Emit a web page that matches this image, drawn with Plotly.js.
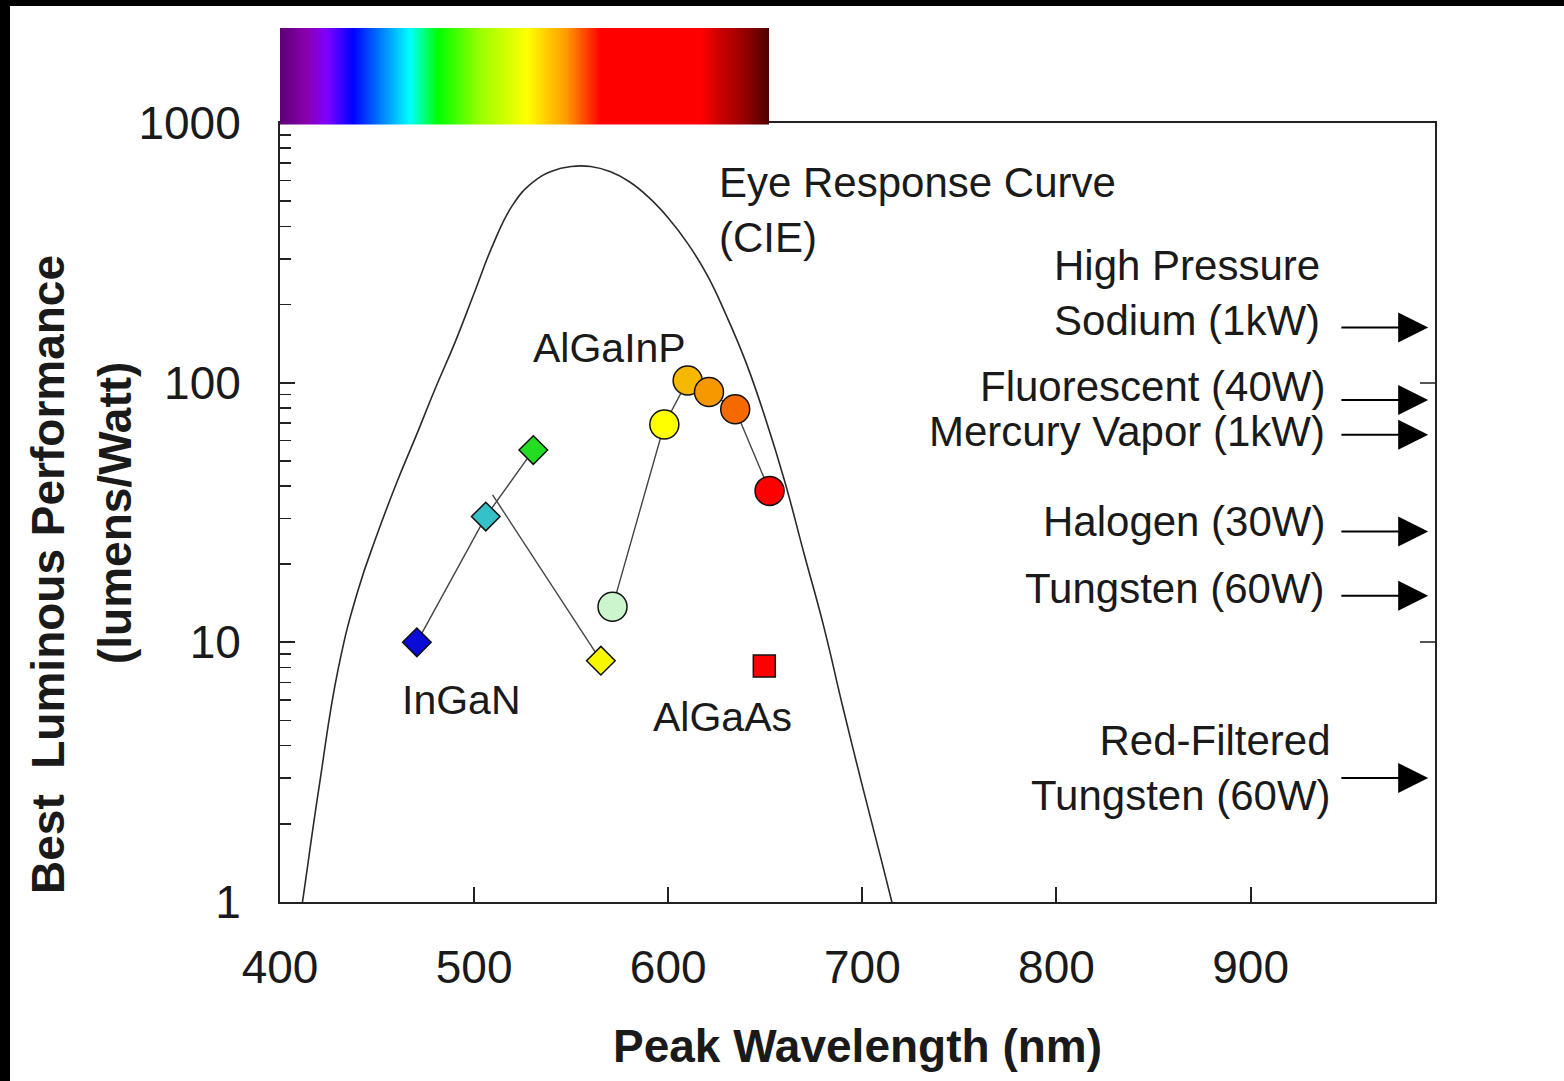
<!DOCTYPE html>
<html><head><meta charset="utf-8">
<script src="https://cdn.plot.ly/plotly-3.0.1.min.js"></script>
<style>
html,body{margin:0;padding:0;background:#fff;}
#chart{position:absolute;left:0;top:0;width:1564px;height:1081px;}
#frame{position:absolute;left:0;top:0;width:1564px;height:1081px;box-sizing:border-box;border-top:6px solid #000;border-left:10px solid #000;pointer-events:none;}
</style></head><body>
<div id="chart"></div><div id="frame"></div>
<script>
// ---- Data ----
// CIE photopic eye response (lumens/Watt)
const cieWavelength = [400,410,420,430,440,450,460,470,480,490,500,510,520,530,540,550,560,570,580,590,600,610,620,630,640,650,660,670,680,690,700,710,720];
const cieEfficacy   = [0.27,0.83,2.73,7.92,15.7,26.0,41.0,62.1,95.0,142,221,344,485,589,652,680,680,650,594,517,431,344,260,181,120,73.1,41.7,21.9,11.6,5.61,2.80,1.43,0.72];

// InGaN LEDs
const inganWavelength = [470.5, 506, 530.5];
const inganEfficacy   = [10, 30.5, 55];
const inganColors     = ['#0b0bd8', '#36c0c8', '#22dd22'];
const inganYellowWavelength = [565.3, 509.5];
const inganYellowEfficacy   = [8.5, 37];
const inganYellowColor = '#f7f700';

// AlGaInP LEDs
const algainpWavelength = [571.3, 598, 610, 621, 634.5, 652.2];
const algainpEfficacy   = [13.7, 69, 102, 92, 79, 38.3];
const algainpColors     = ['#cdf5cd', '#ffff00', '#f7b800', '#f79800', '#f56a00', '#ff0000'];

// AlGaAs LED
const algaasWavelength = [649.5];
const algaasEfficacy   = [8.1];

// Conventional lamps
const lampLabels = ['High Pressure<br>Sodium (1kW)', 'Fluorescent (40W)', 'Mercury Vapor (1kW)', 'Halogen (30W)', 'Tungsten (60W)', 'Red-Filtered<br>Tungsten (60W)'];
const lampEfficacy = [163, 85.7, 63, 26.7, 15.1, 3.0];

// Spectrum bar colours
const spectrumStops  = [0, 0.055, 0.095, 0.148, 0.195, 0.265, 0.322, 0.41, 0.505, 0.585, 0.655, 0.86, 0.90, 0.95, 1];
const spectrumColors = ['#5e0078', '#8a00b0', '#8000ff', '#0000ff', '#0066ff', '#00ffff', '#00ff00', '#9cff00', '#ffff00', '#ff9a00', '#ff0000', '#ff0000', '#c80000', '#960000', '#4a0000'];

const xTickVals = [400, 500, 600, 700, 800, 900];
const rightTickVals = [10, 100];

// ---- Layout helpers ----
const FONT = 'Liberation Sans, Arial, sans-serif';
const INK = '#1a1a1a';
const mLeft = 280, mRight = 129, mTop = 28, mBottom = 179, W = 1564, H = 1081;
const pw = W - mLeft - mRight, ph = H - mTop - mBottom;
const px = v => (v - mLeft) / pw;
const py = v => (H - mBottom - v) / ph;
const yDomTop = py(123);

const traces = [
  {type:'heatmap', x:[0,1], y:[0,1], z:[[0,1],[0,1]], xaxis:'x2', yaxis:'y2',
   colorscale: spectrumStops.map((s,i)=>[s, spectrumColors[i]]), zsmooth:'best',
   showscale:false, hoverinfo:'skip'},
  {type:'scatter', mode:'lines', x:[], y:[], yaxis:'y3', hoverinfo:'skip'},
  {type:'scatter', mode:'lines', x:cieWavelength, y:cieEfficacy,
   line:{color:'#2a2a2a', width:1.6, shape:'spline', smoothing:1.3}, hoverinfo:'x+y'},
  {type:'scatter', mode:'lines', x:inganYellowWavelength, y:inganYellowEfficacy,
   line:{color:'#444', width:1.4}},
  {type:'scatter', mode:'lines+markers', x:inganWavelength, y:inganEfficacy,
   line:{color:'#444', width:1.4},
   marker:{symbol:'diamond', size:22, color:inganColors, line:{color:'#111', width:1.5}}},
  {type:'scatter', mode:'markers', x:inganYellowWavelength.slice(0,1), y:inganYellowEfficacy.slice(0,1),
   marker:{symbol:'diamond', size:22, color:inganYellowColor, line:{color:'#111', width:1.5}}},
  {type:'scatter', mode:'lines+markers', x:algainpWavelength, y:algainpEfficacy,
   line:{color:'#444', width:1.4},
   marker:{symbol:'circle', size:29, color:algainpColors, line:{color:'#111', width:1.5}}},
  {type:'scatter', mode:'markers', x:algaasWavelength, y:algaasEfficacy,
   marker:{symbol:'square', size:22, color:'#ff0000', line:{color:'#111', width:1.5}}}
];

const textAnn = (text, x, y, xanchor, size, align) => ({
  text, xref:'paper', yref:'paper', x:px(x), y:py(y), xanchor, yanchor:'middle',
  align: align || xanchor, showarrow:false, font:{family:FONT, size, color:INK}
});

const annotations = [
  textAnn('Eye Response Curve<br>(CIE)', 717, 210, 'left', 42),
  textAnn('AlGaInP', 609, 348, 'center', 41),
  textAnn('InGaN', 461, 700, 'center', 41),
  textAnn('AlGaAs', 722, 717, 'center', 41),
  textAnn(lampLabels[0], 1322, 293, 'right', 42),
  textAnn(lampLabels[1], 1327, 387, 'right', 42),
  textAnn(lampLabels[2], 1327, 432, 'right', 42),
  textAnn(lampLabels[3], 1327, 521, 'right', 42),
  textAnn(lampLabels[4], 1327, 588, 'right', 42),
  textAnn(lampLabels[5], 1333, 768, 'right', 42),
  // y-axis title (two lines)
  {text:'<b>Best\u00a0 Luminous Performance</b>', xref:'paper', yref:'paper', x:px(48), y:py(575), xanchor:'center', yanchor:'middle',
   textangle:-90, showarrow:false, font:{family:FONT, size:46, color:INK}},
  {text:'<b>(lumens/Watt)</b>', xref:'paper', yref:'paper', x:px(115), y:py(513), xanchor:'center', yanchor:'middle',
   textangle:-90, showarrow:false, font:{family:FONT, size:46, color:INK}}
];
lampEfficacy.forEach(v => {
  annotations.push({
    text:'', xref:'x', yref:'y', axref:'x', ayref:'y',
    x:991.5, y:Math.log10(v), ax:946, ay:Math.log10(v),
    showarrow:true, arrowhead:2, arrowsize:3.0, arrowwidth:2, arrowcolor:'#000', standoff:0, startstandoff:0
  });
});

const layout = {
  width:W, height:H,
  margin:{l:mLeft, r:mRight, t:mTop, b:mBottom},
  paper_bgcolor:'#ffffff', plot_bgcolor:'rgba(0,0,0,0)',
  showlegend:false,
  font:{family:FONT, color:INK},
  xaxis:{
    range:[400, 995], tickvals:xTickVals, ticks:'inside', ticklen:15, tickwidth:2, tickcolor:'#222',
    showline:true, linecolor:'#222', linewidth:2, mirror:true, showgrid:false, zeroline:false,
    tickfont:{family:FONT, size:46, color:INK}, ticklabelstandoff:24,
    title:{text:'<b>Peak Wavelength (nm)</b>', font:{family:FONT, size:46, color:INK}, standoff:38},
    automargin:false, anchor:'y'
  },
  yaxis:{
    type:'log', range:[0, 3], domain:[0, yDomTop], dtick:1, tick0:0, exponentformat:'none',
    ticks:'inside', ticklen:15, tickwidth:2, tickcolor:'#222',
    minor:{ticks:'inside', ticklen:11, tickwidth:1.5, tickcolor:'#222', dtick:'D1', showgrid:false},
    showline:true, linecolor:'#222', linewidth:2, mirror:true, showgrid:false, zeroline:false,
    tickfont:{family:FONT, size:46, color:INK}, ticklabelstandoff:28,
    automargin:false, anchor:'x'
  },
  yaxis3:{
    type:'log', range:[0, 3], domain:[0, yDomTop], overlaying:'y', side:'right', anchor:'x',
    tickvals:rightTickVals, ticks:'inside', ticklen:15, tickwidth:2, tickcolor:'#555',
    showticklabels:false, showline:false, showgrid:false, zeroline:false
  },
  xaxis2:{domain:[0, px(769)], range:[0,1], anchor:'y2', visible:false, fixedrange:true},
  yaxis2:{domain:[py(124.5), 1], range:[0,1], anchor:'x2', visible:false, fixedrange:true},
  annotations
};

Plotly.newPlot('chart', traces, layout, {displayModeBar:false, staticPlot:true});
</script>
</body></html>
